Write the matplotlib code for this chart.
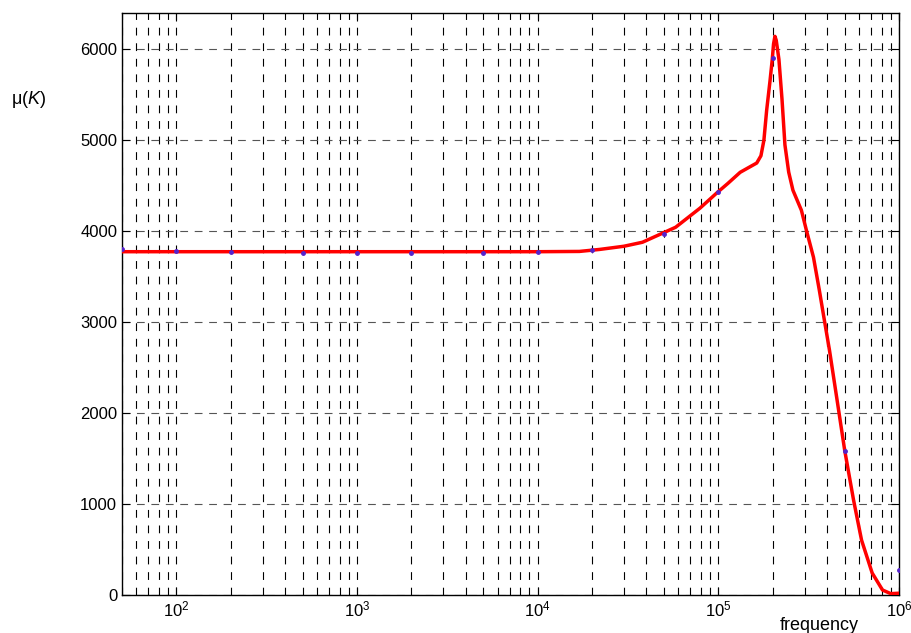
import matplotlib
matplotlib.use('Agg')
import matplotlib.pyplot as plt
from matplotlib.ticker import LogLocator, NullFormatter, MultipleLocator

plt.rcParams['font.family'] = ['Liberation Sans', 'DejaVu Sans']
plt.rcParams['mathtext.fontset'] = 'custom'
plt.rcParams['mathtext.rm'] = 'Liberation Sans'
plt.rcParams['mathtext.it'] = 'Liberation Sans:italic'

# measured points (blue dots)
freq_pts = [50, 100, 200, 500, 1000, 2000, 5000, 10000, 20000, 50000,
            100000, 200000, 500000, 1000000]
mu_pts = [3810, 3780, 3775, 3765, 3765, 3765, 3765, 3770, 3790, 3970,
          4430, 5900, 1580, 280]

# fitted curve (red)
freq_fit = [50, 100, 1000, 10000, 17000, 22000, 30000, 38000, 49000, 58000,
            79000, 99000, 113000, 132000, 150000, 163000, 172000, 178600,
            185000, 193000, 198700, 202000, 205600, 209000, 216300, 225000,
            233500, 245000, 258600, 288000, 307000, 336000, 362000, 386000,
            412000, 454000, 500000, 560000, 620000, 710000, 810000, 900000,
            1000000]
mu_fit = [3775, 3775, 3775, 3775, 3778, 3800, 3835, 3879, 3978, 4044,
          4253, 4429, 4527, 4648, 4710, 4750, 4830, 5000,
          5330, 5650, 5890, 6060, 6143, 6100, 5890, 5450,
          4950, 4650, 4451, 4231, 4011, 3714, 3352, 3022,
          2692, 2143, 1593, 1044, 604, 242, 55, 15,
          20]

fig = plt.figure(figsize=(9.12, 6.33), dpi=100)
ax = fig.add_axes([0.1338, 0.06, 0.852, 0.9195])

ax.plot(freq_fit, mu_fit, color='red', linewidth=2.5, zorder=3)
ax.plot(freq_pts, mu_pts, 'o', color='#5522cc', markersize=2.5, zorder=4)

ax.set_xscale('log')
ax.set_xlim(50, 1e6)
ax.set_ylim(0, 6400)
ax.yaxis.set_major_locator(MultipleLocator(1000))
ax.xaxis.set_major_locator(LogLocator(base=10))
ax.xaxis.set_minor_locator(LogLocator(base=10, subs=range(2, 10)))
ax.xaxis.set_minor_formatter(NullFormatter())

ax.grid(True, which='both', axis='x', color='black', linestyle=(0, (7, 7)), linewidth=0.8)
ax.grid(True, which='major', axis='y', color='#555555', linestyle=(0, (7, 6)), linewidth=0.8)

ax.tick_params(which='both', direction='in', top=True, right=True, labelsize=12)
ax.tick_params(which='major', length=6)
ax.tick_params(which='minor', length=3)
for s in ax.spines.values():
    s.set_linewidth(1.0)

fig.text(0.012, 0.835, r'μ($K$)', fontsize=13)
fig.text(0.855, 0.005, 'frequency', fontsize=13)

fig.savefig('out.png', dpi=100)
